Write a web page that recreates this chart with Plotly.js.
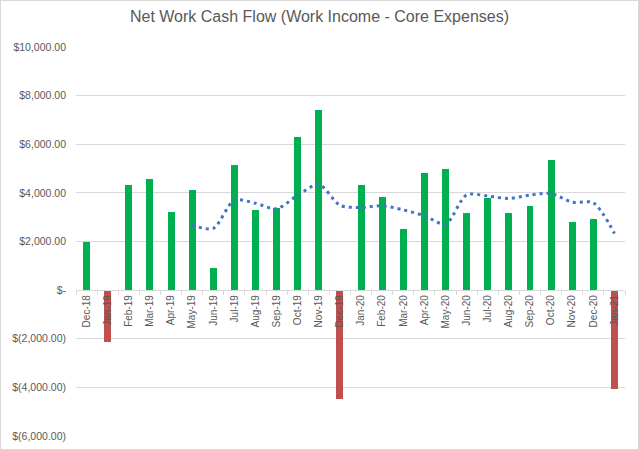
<!DOCTYPE html>
<html>
<head>
<meta charset="utf-8">
<script src="https://cdn.plot.ly/plotly-3.0.1.min.js"></script>
<style>
html,body{margin:0;padding:0;background:#fff;}
#wrap{width:639px;height:450px;box-sizing:border-box;border:1px solid #d9d9d9;}
#chart{width:637px;height:448px;}
</style>
</head>
<body>
<div id="wrap"><div id="chart"></div></div>
<script>
const months = ["Dec-18","Jan-19","Feb-19","Mar-19","Apr-19","May-19","Jun-19","Jul-19","Aug-19","Sep-19","Oct-19","Nov-19","Dec-19",
  "Jan-20","Feb-20","Mar-20","Apr-20","May-20","Jun-20","Jul-20","Aug-20","Sep-20","Oct-20","Nov-20","Dec-20","Jan-21"];
const netCashFlow = [2000,-2150,4320,4570,3220,4130,890,5140,3290,3360,6300,7400,-4470,
  4320,3850,2510,4800,4990,3180,3770,3180,3460,5350,2790,2930,-4050];
const trendMonths = ["May-19","Jun-19","Jul-19","Aug-19","Sep-19","Oct-19","Nov-19","Dec-19","Jan-20","Feb-20","Mar-20","Apr-20","May-20",
  "Jun-20","Jul-20","Aug-20","Sep-20","Oct-20","Nov-20","Dec-20","Jan-21"];
const trendValues = [2675,2540,3700,3570,3350,3900,4350,3490,3400,3470,3300,3060,2720,3920,3870,3770,3910,3970,3620,3590,2330];
const yTickVals = [10000,8000,6000,4000,2000,0,-2000,-4000,-6000];
const yTickText = ["$10,000.00","$8,000.00","$6,000.00","$4,000.00","$2,000.00","$-","$(2,000.00)","$(4,000.00)","$(6,000.00)"];

const POS = "#00B050", NEG = "#C0504D";
const barColors = netCashFlow.map(v => v < 0 ? NEG : POS);

const yMin = -6000, yMax = 10000;
const font = {family: "Liberation Sans, Arial, sans-serif", color: "#595959"};

const data = [
  {type: "bar", x: months, y: netCashFlow, width: 0.33,
   marker: {color: barColors, line: {width: 0}}, hoverinfo: "skip", showlegend: false},
  {type: "scatter", mode: "lines", x: trendMonths, y: trendValues,
   line: {color: "#4472C4", width: 3, dash: "3px,4px", shape: "spline", smoothing: 0.8},
   hoverinfo: "skip", showlegend: false}
];

const layout = {
  width: 637, height: 448,
  margin: {l: 75, r: 13, t: 46, b: 13},
  paper_bgcolor: "#fff", plot_bgcolor: "#fff",
  font: Object.assign({size: 10}, font),
  title: {text: "Net Work Cash Flow (Work Income - Core Expenses)",
          font: Object.assign({}, font, {size: 16}), x: 0.5, xanchor: "center", y: 0.978, yanchor: "top"},
  xaxis: {type: "category", categoryorder: "array", categoryarray: months,
          anchor: "free", position: (0 - yMin) / (yMax - yMin),
          showline: true, linecolor: "#d9d9d9", linewidth: 1,
          ticks: "outside", ticklen: 4, tickcolor: "#d9d9d9", tickson: "boundaries",
          tickangle: -90, tickfont: Object.assign({size: 10}, font),
          showgrid: false, zeroline: false, fixedrange: true},
  yaxis: {range: [yMin, yMax], tickvals: yTickVals, ticktext: yTickText,
          showgrid: true, gridcolor: "#d9d9d9", gridwidth: 1, zeroline: false,
          showline: false, ticks: "", ticklabelstandoff: 9,
          tickfont: Object.assign({size: 10.5}, font), fixedrange: true},
  bargap: 0
};

Plotly.newPlot("chart", data, layout, {displayModeBar: false, staticPlot: true});
</script>
</body>
</html>
